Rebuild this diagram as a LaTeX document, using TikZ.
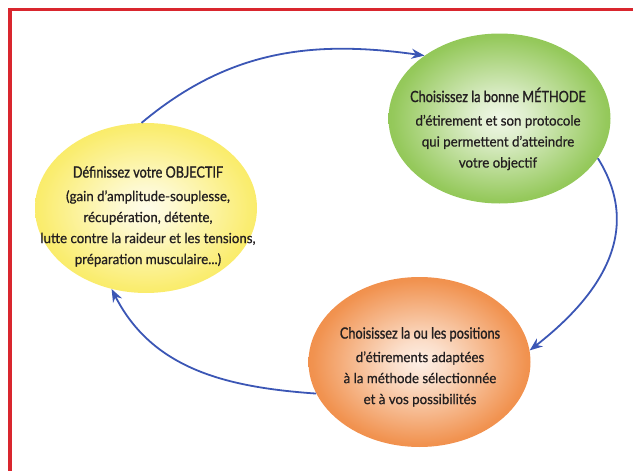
\documentclass[tikz,border=0pt]{standalone}
\usepackage{fontspec}
\setmainfont{Lato}[FakeStretch=0.95,FakeBold=0.7]
\newfontfamily\headfont{Lato}[FakeStretch=0.82,FakeBold=1.1]
\usetikzlibrary{shapes.geometric,arrows.meta}

\definecolor{frame}{HTML}{D9262E}
\definecolor{loop}{HTML}{3B56B5}
\definecolor{ink}{HTML}{231F20}
\definecolor{yel}{HTML}{F9E84A}
\definecolor{grn}{HTML}{7EBD38}
\definecolor{org}{HTML}{EE7B2A}

\pgfdeclareradialshading{yelball}{\pgfpoint{0bp}{0bp}}{color(0bp)=(yel!12!white); color(6bp)=(yel!25!white); color(24bp)=(yel!80!white); color(36bp)=(yel); color(50bp)=(yel)}
\pgfdeclareradialshading{grnball}{\pgfpoint{0bp}{0bp}}{color(0bp)=(grn!12!white); color(6bp)=(grn!25!white); color(24bp)=(grn!82!white); color(36bp)=(grn); color(50bp)=(grn)}
\pgfdeclareradialshading{orgball}{\pgfpoint{0bp}{0bp}}{color(0bp)=(org!12!white); color(6bp)=(org!25!white); color(24bp)=(org!82!white); color(36bp)=(org); color(50bp)=(org)}

\tikzset{
  ball/.style={ellipse,inner sep=0pt,minimum width=222pt,minimum height=170pt,shading=#1},
  blurb/.style={align=center,inner sep=0pt,anchor=north,text=ink,font=\fontsize{14}{21}\selectfont},
  cycle/.style={draw=loop,line width=1.8pt,-{Stealth[length=13pt,width=10pt]}}
}
\newcommand{\headline}[1]{{\headfont\fontsize{15.5}{24}\selectfont #1}\\[2.5pt]}

\begin{document}
\begin{tikzpicture}[x=1pt,y=-1pt]
	\useasboundingbox (0,0) rectangle (633,471);
	%frame
	\draw[frame,line width=3.5pt] (10,480) -- (10,9.5) -- (640,9.5);

	%ellipses
	\node[ball=yelball] (objectif) at (146,208) {};
	\node[ball=grnball] (methode) at (499.5,118.5) {};
	\node[ball=orgball] (positions) at (419.5,362) {};

	%texts
	\node[blurb] (objtext) at (148,166) {\headline{Définissez votre OBJECTIF}(gain d’amplitude-souplesse,\\récupération, détente,\\lutte contre la raideur et les tensions,\\préparation musculaire...)};
	\node[blurb] (methtext) at (498,87.5) {\headline{Choisissez la bonne MÉTHODE}d’étirement et son protocole\\qui permettent d’atteindre\\votre objectif};
	\node[blurb] (postext) at (420,327) {\headline{Choisissez la ou les positions}d’étirements adaptées\\à la méthode sélectionnée\\et à vos possibilités};

	%arrows
	\draw[cycle] (objectif.93) to[out=40,in=172] (methode.140); %objectif to methode
	\draw[cycle] (methode.-22) to[out=-58,in=38,looseness=1.1] (positions.6); %methode to positions
	\draw[cycle] (positions.197) to[out=176,in=-63] (objectif.247); %positions to objectif
\end{tikzpicture}
\end{document}
